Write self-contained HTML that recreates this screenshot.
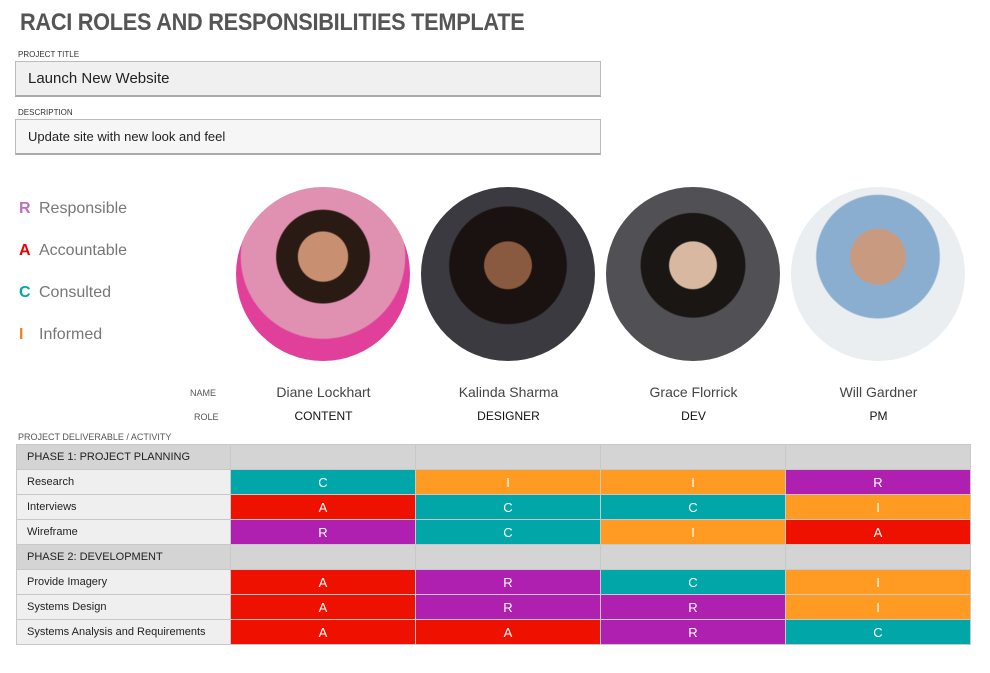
<!DOCTYPE html>
<html><head><meta charset="utf-8"><style>
body{margin:0;background:#fff;width:990px;height:673px;position:relative;overflow:hidden;font-family:"Liberation Sans",sans-serif;color:#222}
.a{position:absolute}
.title{left:20px;top:9px;font-size:24px;font-weight:bold;color:#555;letter-spacing:-0.3px;transform:scaleX(0.905);transform-origin:0 0}
.lbl{font-size:8px;color:#333}
.box{left:15px;width:586px;border:1px solid #bbb;border-bottom:2px solid #aaa;box-sizing:border-box;padding-left:12px}
.leg{left:19px;font-size:16px;color:#777}
.leg b{display:inline-block;width:20px;font-weight:bold}
.circ{width:174px;height:174px;border-radius:50%;top:187px}
table{position:absolute;left:16px;top:444px;border-collapse:collapse;font-size:11px}
td{height:24px;padding:0;border:1px solid #c8c8c8;width:184px;text-align:center;color:#fff;font-size:13px}
td.n{width:214px;text-align:left;padding-left:10px;box-sizing:border-box;color:#222;background:#efefef;font-size:11px}
tr.p td{background:#d4d4d4}
.C{background:#00a6a8}.I{background:#ff9a22}.A{background:#ee1100}.R{background:#b020b0}
.nm{font-size:14px;color:#444;width:185px;text-align:center;top:384px}
.rl{font-size:12px;color:#111;width:185px;text-align:center;top:409px}
</style></head><body>
<div class="a title">RACI ROLES AND RESPONSIBILITIES TEMPLATE</div>
<div class="a lbl" style="left:18px;top:50px">PROJECT TITLE</div>
<div class="a box" style="top:61px;height:36px;background:#f0f0f0;font-size:15px;line-height:34px">Launch New Website</div>
<div class="a lbl" style="left:18px;top:108px">DESCRIPTION</div>
<div class="a box" style="top:119px;height:36px;background:#f6f6f6;font-size:13px;line-height:34px">Update site with new look and feel</div>
<div class="a leg" style="top:200px"><b style="color:#c070c0">R</b>Responsible</div>
<div class="a leg" style="top:242px"><b style="color:#e00">A</b>Accountable</div>
<div class="a leg" style="top:284px"><b style="color:#00a6a8">C</b>Consulted</div>
<div class="a leg" style="top:326px"><b style="color:#f08020">I</b>Informed</div>
<div class="a circ" style="left:236px;background:radial-gradient(circle at 50% 40%,#c89070 0 18%,#2a1a14 19% 34%,#e090b0 35% 60%,#e0409a 61%)"></div>
<div class="a circ" style="left:421px;background:radial-gradient(circle at 50% 45%,#8a5a40 0 18%,#1a1210 19% 45%,#3a3a40 46%)"></div>
<div class="a circ" style="left:606px;background:radial-gradient(circle at 50% 45%,#d8b8a0 0 18%,#1a1614 19% 40%,#505055 41%)"></div>
<div class="a circ" style="left:791px;background:radial-gradient(circle at 50% 40%,#c89a80 0 20%,#8aaed0 21% 45%,#eaeef0 46%)"></div>
<div class="a" style="left:190px;top:388px;font-size:9px;color:#555">NAME</div>
<div class="a" style="left:194px;top:412px;font-size:9px;color:#555">ROLE</div>
<div class="a nm" style="left:231px">Diane Lockhart</div><div class="a nm" style="left:416px">Kalinda Sharma</div><div class="a nm" style="left:601px">Grace Florrick</div><div class="a nm" style="left:786px">Will Gardner</div>
<div class="a rl" style="left:231px">CONTENT</div><div class="a rl" style="left:416px">DESIGNER</div><div class="a rl" style="left:601px">DEV</div><div class="a rl" style="left:786px">PM</div>
<div class="a" style="left:18px;top:432px;font-size:9px;color:#555">PROJECT DELIVERABLE / ACTIVITY</div>
<table>
<tr class="p"><td class="n" style="background:#d4d4d4">PHASE 1: PROJECT PLANNING</td><td></td><td></td><td></td><td></td></tr>
<tr><td class="n">Research</td><td class="C">C</td><td class="I">I</td><td class="I">I</td><td class="R">R</td></tr>
<tr><td class="n">Interviews</td><td class="A">A</td><td class="C">C</td><td class="C">C</td><td class="I">I</td></tr>
<tr><td class="n">Wireframe</td><td class="R">R</td><td class="C">C</td><td class="I">I</td><td class="A">A</td></tr>
<tr class="p"><td class="n" style="background:#d4d4d4">PHASE 2: DEVELOPMENT</td><td></td><td></td><td></td><td></td></tr>
<tr><td class="n">Provide Imagery</td><td class="A">A</td><td class="R">R</td><td class="C">C</td><td class="I">I</td></tr>
<tr><td class="n">Systems Design</td><td class="A">A</td><td class="R">R</td><td class="R">R</td><td class="I">I</td></tr>
<tr><td class="n">Systems Analysis and Requirements</td><td class="A">A</td><td class="A">A</td><td class="R">R</td><td class="C">C</td></tr>
</table>
</body></html>
